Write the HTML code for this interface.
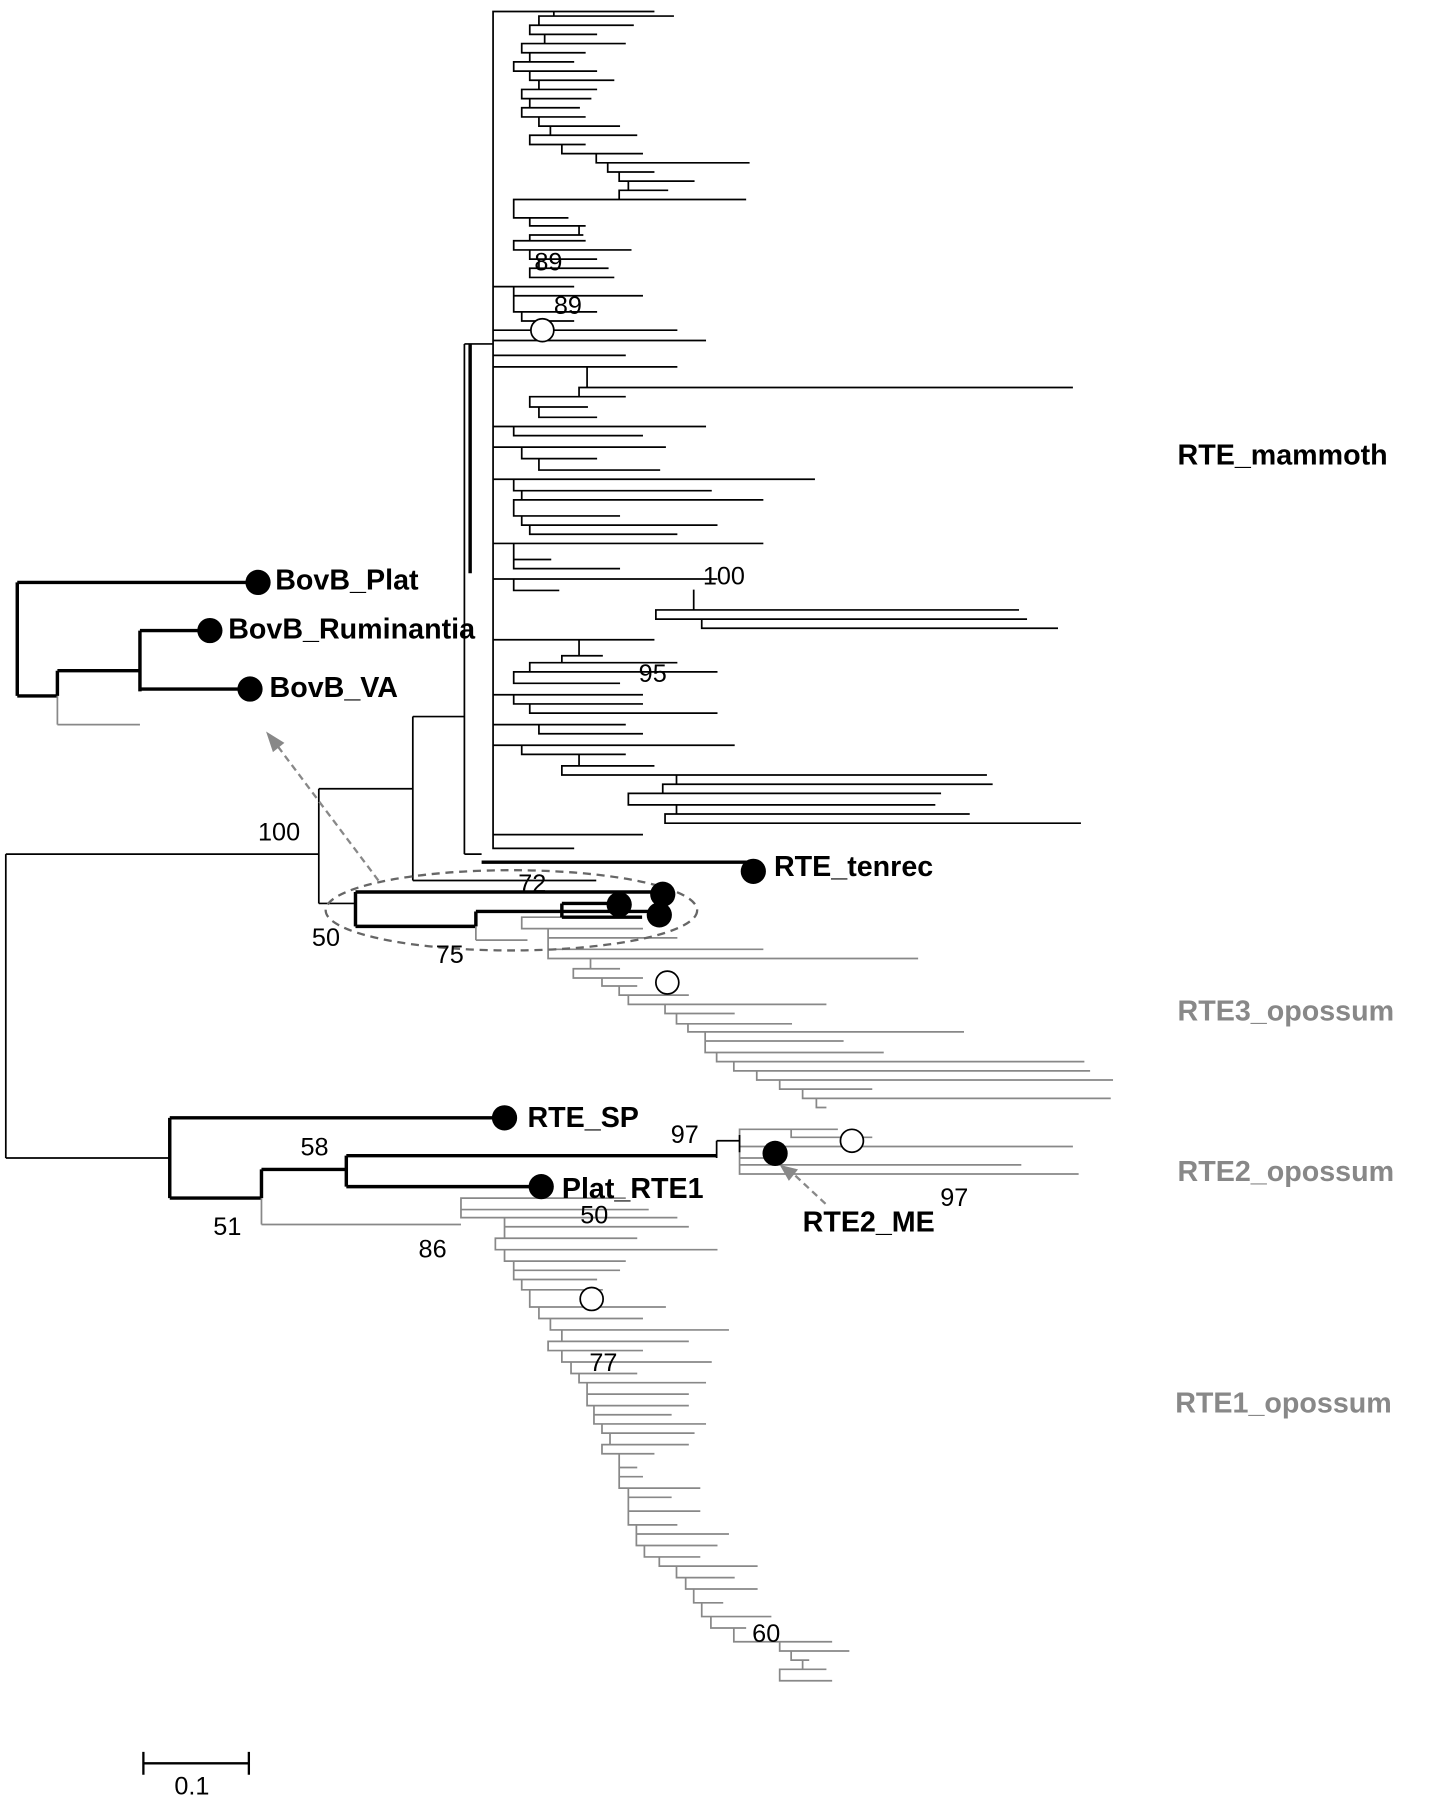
<!DOCTYPE html>
<html><head><meta charset="utf-8"><style>
html,body{margin:0;padding:0;background:#fff;width:1439px;height:1800px;overflow:hidden}
svg{display:block}
text{font-family:"Liberation Sans",Arial,sans-serif}
</style></head><body>
<svg id="s" width="1439" height="1800" viewBox="0 0 1255 1570" xmlns="http://www.w3.org/2000/svg">
<g id="tree" fill="none" stroke-linecap="square"></g>
<g fill="none">
<path d="M5 745 V1010 M5 745 H278 M5 1010 H148 M278 688 V788 M278 688 H360 M278 788 H310 M360 625 V768 M360 625 H405 M360 768 H520 M405 300 V745 M405 745 H420 M405 300 H430" stroke="#000" stroke-width="1.5"/>
<path d="M410 300 V500" stroke="#000" stroke-width="3"/>
<path d="M310 778 V808 M310 778 H575 M310 808 H415 M415 795 V808 M415 795 H575 M490 788 V800 M490 788 H540 M490 800 H560" stroke="#000" stroke-width="3"/>
<path d="M420 752 H655" stroke="#000" stroke-width="3"/>
<path d="M415 808 V820 M415 820 H460" stroke="#888" stroke-width="1.5"/>
<path d="M148 975 V1045 M148 975 H440 M228 1020 V1045 M228 1020 H302 M302 1008 V1035 M302 1008 H625 M302 1035 H470 M148 1045 H228" stroke="#000" stroke-width="3"/>
<path d="M228 1045 V1068 M228 1068 H402" stroke="#888" stroke-width="1.5"/>
<path d="M625 995 V1010 M625 995 H645 M645 990 V1005 M670 1003 V1010 M670 1006 H676" stroke="#000" stroke-width="1.5"/>
<path d="M15 508 V607 M15 508 H225 M15 607 H50 M50 585 V607 M50 585 H122 M122 550 V603 M122 550 H183 M122 601 H218" stroke="#000" stroke-width="3"/>
<path d="M50 607 V632 M50 632 H122" stroke="#888" stroke-width="1.5"/>
<ellipse cx="446" cy="794" rx="162" ry="35" stroke="#666" stroke-width="2" stroke-dasharray="7,5"/>
<path d="M330 768 L240 648" stroke="#888" stroke-width="2" stroke-dasharray="6,4"/>
<path d="M720 1050 L690 1022" stroke="#888" stroke-width="2" stroke-dasharray="6,4"/>
</g>
<polygon points="232,638 248,648 238,656" fill="#888"/>
<polygon points="680,1016 696,1020 688,1030" fill="#888"/>
<g fill="#000">
<circle cx="225" cy="508" r="11"/><circle cx="183" cy="550" r="11"/><circle cx="218" cy="601" r="11"/>
<circle cx="657" cy="760" r="11"/><circle cx="578" cy="780" r="11"/><circle cx="575" cy="798" r="11"/><circle cx="540" cy="789" r="11"/>
<circle cx="440" cy="975" r="11"/><circle cx="472" cy="1035" r="11"/><circle cx="676" cy="1006" r="11"/>
</g>
<g fill="#fff" stroke="#000" stroke-width="1.5">
<circle cx="473" cy="288" r="10"/><circle cx="582" cy="857" r="10"/><circle cx="743" cy="995" r="10"/><circle cx="516" cy="1133" r="10"/>
</g>
<g font-size="22" fill="#000">
<text x="225" y="733">100</text><text x="272" y="825">50</text><text x="380" y="840">75</text><text x="452" y="778">72</text>
<text x="585" y="997">97</text><text x="262" y="1008">58</text><text x="186" y="1077">51</text><text x="365" y="1097">86</text>
<text x="506" y="1067">50</text><text x="514" y="1196">77</text><text x="656" y="1432">60</text><text x="820" y="1052">97</text>
<text x="466" y="236">89</text><text x="483" y="274">89</text><text x="613" y="510">100</text><text x="557" y="595">95</text>
<text x="152" y="1565">0.1</text>
</g>
<g font-size="25" font-weight="bold" fill="#000">
<text x="240" y="514">BovB_Plat</text><text x="199" y="557">BovB_Ruminantia</text><text x="235" y="608">BovB_VA</text>
<text x="675" y="764">RTE_tenrec</text><text x="460" y="983">RTE_SP</text><text x="490" y="1045">Plat_RTE1</text>
<text x="700" y="1074">RTE2_ME</text><text x="1027" y="405">RTE_mammoth</text>
</g>
<g font-size="25" font-weight="bold" fill="#888">
<text x="1027" y="890">RTE3_opossum</text><text x="1027" y="1030">RTE2_opossum</text><text x="1025" y="1232">RTE1_opossum</text>
</g>
<path d="M125 1538 H217 M125 1528 V1548 M217 1528 V1548" stroke="#000" stroke-width="2"/>
</svg>
<script>
var A=[[10,483,570],[14,483,587],[22,470,552],[30,462,520],[38,475,545],[46,455,510],[54,462,500],[62,448,520],[70,462,535],[78,470,520],[86,455,515],[94,462,505],[102,455,510],[110,470,540],[118,480,555],[126,462,510],[134,490,560],[142,520,653],[150,530,570],[158,540,605],[166,548,582],[174,540,650],[190,448,495],[197,462,510],[205,505,508],[210,462,510],[218,448,550],[226,462,520],[234,470,530],[242,462,535],[250,440,500],[258,448,560],[272,448,520],[280,455,500],[288,440,590],[297,440,615],[310,440,545],[320,440,590],[338,512,935],[346,505,545],[355,462,512],[364,470,520],[372,440,615],[380,448,560],[390,440,580],[400,455,520],[410,470,575],[418,440,710],[428,448,620],[436,455,665],[450,448,540],[458,455,625],[466,462,590],[474,440,665],[488,448,480],[496,448,540],[505,440,625],[515,448,487],[532,605,888],[540,572,895],[548,612,922],[558,440,570],[572,505,525],[578,490,590],[586,462,625],[596,448,540],[606,440,560],[614,448,560],[622,462,625],[632,440,545],[640,470,560],[650,440,640],[658,455,545],[668,505,570],[676,490,860],[684,590,865],[692,578,820],[702,548,815],[710,590,845],[718,580,942],[728,420,560],[740,420,500]];
var B=[[800,470,525],[810,460,560],[818,478,590],[828,478,665],[836,478,800],[845,515,540],[853,500,560],[860,525,555],[868,540,600],[876,548,720],[884,580,640],[893,590,690],[900,600,840],[908,615,735],[918,615,770],[926,625,945],[934,640,950],[942,660,970],[950,680,760],[958,700,968],[966,712,720]];
var C=[[985,700,730],[992,690,760],[1000,680,935],[1010,655,680],[1016,660,890],[1024,660,940]];
var D=[[1045,460,545],[1055,418,565],[1062,428,590],[1070,440,600],[1080,440,555],[1090,432,625],[1100,440,545],[1108,448,540],[1116,448,520],[1125,455,525],[1140,462,580],[1150,470,560],[1160,480,635],[1170,490,600],[1178,478,560],[1188,490,620],[1198,498,555],[1206,505,615],[1216,512,600],[1226,512,600],[1234,518,585],[1242,518,615],[1250,525,605],[1260,532,600],[1268,525,570],[1280,540,555],[1288,540,560],[1298,540,610],[1306,548,585],[1318,548,610],[1330,548,590],[1338,555,635],[1348,555,625],[1358,562,610],[1366,575,660],[1376,590,640],[1386,598,660],[1398,605,630],[1410,612,672],[1420,620,650],[1432,640,725],[1440,680,740],[1448,690,705],[1456,700,720],[1466,680,725]];
function draw(L,bx,col,thr){var d="";var last=L[0][0];
for(var i=0;i<L.length;i++){var t=L[i];
 if(i==0||t[1]-bx<thr){d+="M"+bx+" "+t[0]+"H"+t[2];last=t[0];}
 else{var p=L[i-1];d+="M"+t[1]+" "+t[0]+"H"+t[2]+"M"+t[1]+" "+p[0]+"V"+t[0];
  if(t[1]<p[1])d+="M"+t[1]+" "+p[0]+"H"+p[1];}
}
d+="M"+bx+" "+L[0][0]+"V"+last;
var e=document.createElementNS("http://www.w3.org/2000/svg","path");e.setAttribute("d",d);e.setAttribute("stroke",col);e.setAttribute("stroke-width","1.5");document.getElementById("tree").appendChild(e);}
draw(A,430,"#000",16);
draw(B,455,"#888",12);
draw(C,645,"#888",40);
draw(D,402,"#888",30);
</script>
</body></html>
